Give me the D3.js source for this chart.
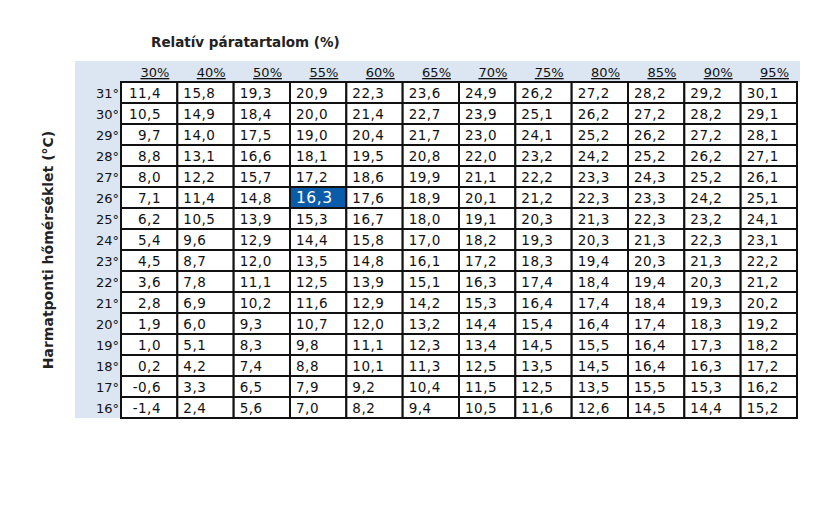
<!DOCTYPE html>
<html><head><meta charset="utf-8">
<script src="https://cdn.jsdelivr.net/npm/d3@7"></script>
<style>body{margin:0;background:#fff}</style>
</head><body>
<script>
var humidity = ['30%','40%','50%','55%','60%','65%','70%','75%','80%','85%','90%','95%'];
var temps = ['31°','30°','29°','28°','27°','26°','25°','24°','23°','22°','21°','20°','19°','18°','17°','16°'];
var values = [
  ['11,4','15,8','19,3','20,9','22,3','23,6','24,9','26,2','27,2','28,2','29,2','30,1'],
  ['10,5','14,9','18,4','20,0','21,4','22,7','23,9','25,1','26,2','27,2','28,2','29,1'],
  ['9,7','14,0','17,5','19,0','20,4','21,7','23,0','24,1','25,2','26,2','27,2','28,1'],
  ['8,8','13,1','16,6','18,1','19,5','20,8','22,0','23,2','24,2','25,2','26,2','27,1'],
  ['8,0','12,2','15,7','17,2','18,6','19,9','21,1','22,2','23,3','24,3','25,2','26,1'],
  ['7,1','11,4','14,8','16,3','17,6','18,9','20,1','21,2','22,3','23,3','24,2','25,1'],
  ['6,2','10,5','13,9','15,3','16,7','18,0','19,1','20,3','21,3','22,3','23,2','24,1'],
  ['5,4','9,6','12,9','14,4','15,8','17,0','18,2','19,3','20,3','21,3','22,3','23,1'],
  ['4,5','8,7','12,0','13,5','14,8','16,1','17,2','18,3','19,4','20,3','21,3','22,2'],
  ['3,6','7,8','11,1','12,5','13,9','15,1','16,3','17,4','18,4','19,4','20,3','21,2'],
  ['2,8','6,9','10,2','11,6','12,9','14,2','15,3','16,4','17,4','18,4','19,3','20,2'],
  ['1,9','6,0','9,3','10,7','12,0','13,2','14,4','15,4','16,4','17,4','18,3','19,2'],
  ['1,0','5,1','8,3','9,8','11,1','12,3','13,4','14,5','15,5','16,4','17,3','18,2'],
  ['0,2','4,2','7,4','8,8','10,1','11,3','12,5','13,5','14,5','16,4','16,3','17,2'],
  ['-0,6','3,3','6,5','7,9','9,2','10,4','11,5','12,5','13,5','15,5','15,3','16,2'],
  ['-1,4','2,4','5,6','7,0','8,2','9,4','10,5','11,6','12,6','14,5','14,4','15,2']
];
var highlight = {row: '26°', col: '55%'};

var svg = d3.select('body').append('svg').attr('width', 840).attr('height', 508)
  .style('font-family', "'DejaVu Sans', sans-serif");

var x = d3.scaleBand().domain(humidity).range([121, 797]);
var y = d3.scaleBand().domain(temps).range([82, 418]);
var bw = x.bandwidth(), bh = y.bandwidth();

// light blue header and row-label band
svg.append('rect').attr('x', 75).attr('y', 61).attr('width', 725).attr('height', 21).attr('fill', '#dce6f2');
svg.append('rect').attr('x', 75).attr('y', 61).attr('width', 46).attr('height', 357).attr('fill', '#dce6f2');

svg.append('text').attr('x', 151).attr('y', 47).attr('font-size', 13.5).attr('font-weight', 'bold')
  .attr('fill', '#222').text('Relatív páratartalom (%)');

svg.append('text').attr('transform', 'translate(53,' + ((82 + 418) / 2) + ') rotate(-90)')
  .attr('text-anchor', 'middle').attr('font-size', 14).attr('font-weight', 'bold')
  .attr('fill', '#222').text('Harmatponti hőmérséklet (°C)');

svg.append('g').selectAll('text').data(humidity).enter().append('text')
  .attr('x', function (d) { return x(d) + bw - 8; })
  .attr('y', 77).attr('text-anchor', 'end').attr('font-size', 13)
  .attr('text-decoration', 'underline').attr('fill', '#111').text(function (d) { return d; });

svg.append('g').selectAll('text').data(temps).enter().append('text')
  .attr('x', 119).attr('y', function (d) { return y(d) + bh / 2 + 5; })
  .attr('text-anchor', 'end').attr('font-size', 13).attr('fill', '#111').text(function (d) { return d; });

var cells = [];
values.forEach(function (row, i) {
  row.forEach(function (v, j) { cells.push({t: temps[i], h: humidity[j], v: v, j: j}); });
});

var g = svg.append('g');
g.selectAll('rect').data(cells).enter().append('rect')
  .attr('x', function (d) { return x(d.h); }).attr('y', function (d) { return y(d.t); })
  .attr('width', bw).attr('height', bh)
  .attr('fill', function (d) { return d.t === highlight.row && d.h === highlight.col ? '#0a5ca8' : '#fff'; })
  .attr('stroke', '#111').attr('stroke-width', 2);

g.selectAll('text').data(cells).enter().append('text')
  .attr('x', function (d) { return d.j === 0 ? x(d.h) + 40 : x(d.h) + 6; })
  .attr('y', function (d) { return y(d.t) + bh / 2 + 5; })
  .attr('text-anchor', function (d) { return d.j === 0 ? 'end' : 'start'; })
  .attr('font-size', function (d) { return d.t === highlight.row && d.h === highlight.col ? 15.5 : 13.5; })
  .attr('letter-spacing', 0.5)
  .attr('fill', function (d) { return d.t === highlight.row && d.h === highlight.col ? '#fff' : '#111'; })
  .text(function (d) { return d.v; });
</script>
</body></html>
